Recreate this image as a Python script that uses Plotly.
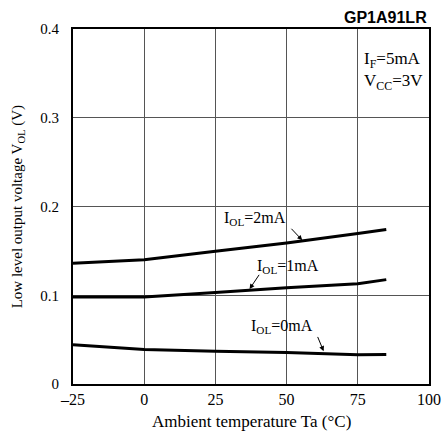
import plotly.graph_objects as go

temps = [-25, 0, 25, 50, 75, 85]
vol_2mA = [0.136, 0.140, 0.1495, 0.159, 0.1695, 0.174]
vol_1mA = [0.098, 0.098, 0.103, 0.1085, 0.113, 0.1176]
vol_0mA = [0.0442, 0.039, 0.037, 0.0356, 0.033, 0.0333]

x_ticks = [-25, 0, 25, 50, 75, 100]
x_labels = ["\u201325", "0", "25", "50", "75", "100"]
y_ticks = [0, 0.1, 0.2, 0.3, 0.4]
y_labels = ["0", "0.1", "0.2", "0.3", "0.4"]

FONT = "Liberation Serif"

fig = go.Figure()
for ys in (vol_2mA, vol_1mA, vol_0mA):
    fig.add_trace(go.Scatter(x=temps, y=ys, mode="lines",
                             line=dict(color="black", width=3),
                             showlegend=False, hoverinfo="skip"))

fig.update_layout(
    width=443, height=434,
    margin=dict(l=73, r=14, t=29, b=50),
    paper_bgcolor="white", plot_bgcolor="white",
    font=dict(family=FONT, size=15, color="black"),
    showlegend=False,
)
fig.update_xaxes(range=[-25, 100], tickvals=x_ticks, ticktext=x_labels,
                 showgrid=True, gridcolor="#555555", gridwidth=1,
                 showline=True, linecolor="black", linewidth=2, mirror=True,
                 ticks="", zeroline=False, automargin=False,
                 tickfont=dict(family=FONT, size=16))
fig.update_yaxes(range=[0, 0.4], tickvals=y_ticks, ticktext=y_labels,
                 showgrid=True, gridcolor="#555555", gridwidth=1,
                 showline=True, linecolor="black", linewidth=2, mirror=True,
                 ticks="", zeroline=False, automargin=False,
                 ticklabelstandoff=9,
                 tickfont=dict(family=FONT, size=15))

# axis titles as annotations for precise placement
fig.add_annotation(xref="paper", yref="paper", x=0.5, y=-0.107, yanchor="middle",
                   text="Ambient temperature Ta (°C)", showarrow=False,
                   font=dict(family=FONT, size=17))
fig.add_annotation(xref="paper", yref="paper", x=-0.155, y=0.5, xanchor="center",
                   textangle=-90, text="Low level output voltage V<sub>OL</sub> (V)",
                   showarrow=False, font=dict(family=FONT, size=15))

anns = [
    dict(text="I<sub>OL</sub>=2mA", x=39, y=0.1868, head=(55.5, 0.162), tail=(51.2, 0.1766)),
    dict(text="I<sub>OL</sub>=1mA", x=50.5, y=0.1326, head=(37, 0.107), tail=(40.7, 0.1247)),
    dict(text="I<sub>OL</sub>=0mA", x=48.4, y=0.0649, head=(63, 0.037), tail=(60.7, 0.0547)),
]
for a in anns:
    fig.add_annotation(x=a["x"], y=a["y"], text=a["text"], showarrow=False,
                       font=dict(family=FONT, size=16))
    fig.add_annotation(x=a["head"][0], y=a["head"][1], ax=a["tail"][0], ay=a["tail"][1],
                       axref="x", ayref="y", text="", showarrow=True,
                       arrowhead=2, arrowsize=1, arrowwidth=1, arrowcolor="black")

fig.add_annotation(xref="paper", yref="paper", x=0.99, y=0.95, xanchor="right", yanchor="top",
                   text="I<sub>F</sub>=5mA<br>V<sub>CC</sub>=3V", align="left",
                   showarrow=False, font=dict(family=FONT, size=17))
fig.add_annotation(xref="paper", yref="paper", x=1.0, y=1.0, xanchor="right", yanchor="bottom",
                   yshift=1, text="<b>GP1A91LR</b>", showarrow=False,
                   font=dict(family="Liberation Sans", size=16))

# remove the browser's default body margin so the figure fills the window exactly
fig.write_html("out.html", config={"displayModeBar": False},
               post_script="document.body.style.margin='0';document.body.style.overflow='hidden';")
